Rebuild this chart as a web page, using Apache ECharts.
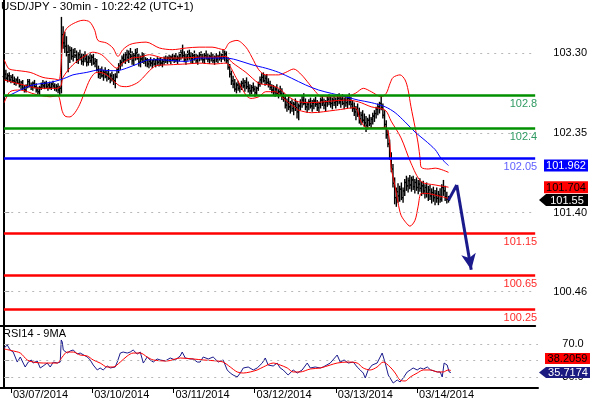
<!DOCTYPE html>
<html><head><meta charset="utf-8">
<script src="https://cdn.jsdelivr.net/npm/echarts@6/dist/echarts.min.js"></script>
<style>html,body{margin:0;padding:0;background:#fff}#c{width:590px;height:400px}</style>
</head><body><div id="c"></div>
<script>
const titleText = 'USD/JPY - 30min - 10:22:42 (UTC+1)';
const rsiTitle = 'RSI14 - 9MA';
const dayTickIndex = [4, 52, 100, 148, 196, 244];
const dayLabels = ['03/07/2014', '03/10/2014', '03/11/2014', '03/12/2014', '03/13/2014', '03/14/2014'];
const priceTicks = [100.46, 101.40, 102.35, 103.30];
const rsiTicks = [30, 50, 70];
const levels = [102.8, 102.4, 102.05, 101.15, 100.65, 100.25];
const levelLabels = ['102.8', '102.4', '102.05', '101.15', '100.65', '100.25'];

// OHLC rows: [open, high, low, close], one per 30-min bar
const ohlc = [
[103.02,103.12,102.98,103.05],[103.05,103.10,102.97,103.00],[103.00,103.06,102.95,103.03],[103.03,103.07,102.96,102.98],
[102.98,103.04,102.94,103.01],[103.01,103.05,102.95,102.97],[102.97,103.02,102.92,102.95],[102.95,103.00,102.91,102.98],
[102.98,103.02,102.93,102.94],[102.94,102.99,102.89,102.92],[102.92,102.97,102.87,102.95],[102.95,102.98,102.86,102.88],
[102.88,102.92,102.83,102.86],[102.86,102.93,102.83,102.91],[102.91,102.99,102.88,102.96],[102.96,102.99,102.89,102.91],
[102.91,102.95,102.86,102.89],[102.89,102.96,102.85,102.94],[102.94,102.98,102.88,102.90],[102.90,102.94,102.83,102.86],
[102.86,102.90,102.81,102.84],[102.84,102.91,102.80,102.89],[102.89,102.95,102.86,102.93],[102.93,102.98,102.88,102.91],
[102.91,102.96,102.87,102.94],[102.94,102.97,102.88,102.90],[102.90,102.94,102.85,102.92],[102.92,102.96,102.87,102.89],
[102.89,102.95,102.86,102.93],[102.93,102.97,102.88,102.91],[102.91,102.94,102.85,102.88],[102.88,102.93,102.84,102.90],
[102.90,102.94,102.82,102.86],[102.86,102.91,102.79,102.88],[102.88,103.73,102.82,103.52],[103.52,103.62,103.35,103.42],
[103.42,103.55,103.30,103.38],[103.38,103.50,103.26,103.31],[103.31,103.40,103.07,103.28],[103.28,103.38,103.18,103.33],
[103.33,103.37,103.22,103.26],[103.26,103.35,103.20,103.30],[103.30,103.36,103.24,103.27],[103.27,103.33,103.18,103.22],
[103.22,103.31,103.17,103.28],[103.28,103.34,103.21,103.25],[103.25,103.30,103.16,103.20],[103.20,103.29,103.15,103.26],
[103.26,103.32,103.19,103.23],[103.23,103.28,103.14,103.19],[103.19,103.27,103.15,103.24],[103.24,103.30,103.18,103.21],
[103.21,103.28,103.15,103.25],[103.25,103.29,103.16,103.18],[103.18,103.24,103.13,103.20],[103.20,103.23,103.08,103.10],
[103.10,103.15,103.00,103.05],[103.05,103.12,102.99,103.08],[103.08,103.14,103.01,103.03],[103.03,103.10,102.97,103.07],
[103.07,103.13,103.00,103.02],[103.02,103.09,102.96,103.05],[103.05,103.11,102.98,103.00],[103.00,103.06,102.94,103.03],
[103.03,103.08,102.96,102.99],[102.99,103.05,102.92,102.97],[102.97,103.06,102.88,103.02],[103.02,103.12,103.00,103.10],
[103.10,103.18,103.06,103.15],[103.15,103.22,103.10,103.19],[103.19,103.27,103.14,103.24],[103.24,103.30,103.18,103.22],
[103.22,103.31,103.17,103.28],[103.28,103.34,103.20,103.25],[103.25,103.33,103.18,103.29],[103.29,103.36,103.22,103.26],
[103.26,103.32,103.16,103.21],[103.21,103.30,103.15,103.27],[103.27,103.35,103.21,103.30],[103.30,103.36,103.22,103.24],
[103.24,103.29,103.14,103.19],[103.19,103.27,103.13,103.23],[103.23,103.31,103.18,103.26],[103.26,103.30,103.17,103.20],
[103.20,103.25,103.14,103.22],[103.22,103.24,103.13,103.17],[103.17,103.23,103.12,103.20],[103.20,103.25,103.14,103.18],
[103.18,103.22,103.12,103.21],[103.21,103.24,103.15,103.17],[103.17,103.23,103.13,103.22],[103.22,103.25,103.16,103.19],
[103.19,103.24,103.14,103.21],[103.21,103.25,103.15,103.18],[103.18,103.23,103.13,103.20],[103.20,103.26,103.16,103.23],
[103.23,103.27,103.18,103.21],[103.21,103.26,103.17,103.24],[103.24,103.28,103.19,103.22],[103.22,103.27,103.17,103.25],
[103.25,103.29,103.20,103.23],[103.23,103.28,103.18,103.26],[103.26,103.30,103.19,103.22],[103.22,103.27,103.17,103.24],
[103.24,103.31,103.20,103.28],[103.28,103.34,103.22,103.30],[103.30,103.40,103.24,103.27],[103.27,103.32,103.19,103.22],
[103.22,103.29,103.16,103.25],[103.25,103.33,103.21,103.29],[103.29,103.34,103.22,103.26],[103.26,103.31,103.18,103.23],
[103.23,103.30,103.17,103.27],[103.27,103.33,103.21,103.24],[103.24,103.29,103.18,103.21],[103.21,103.28,103.16,103.25],
[103.25,103.31,103.20,103.28],[103.28,103.32,103.21,103.24],[103.24,103.29,103.18,103.22],[103.22,103.30,103.17,103.27],
[103.27,103.33,103.22,103.25],[103.25,103.30,103.19,103.23],[103.23,103.28,103.17,103.26],[103.26,103.31,103.20,103.24],
[103.24,103.29,103.18,103.21],[103.21,103.27,103.16,103.25],[103.25,103.30,103.19,103.23],[103.23,103.28,103.18,103.26],
[103.26,103.32,103.21,103.24],[103.24,103.30,103.19,103.28],[103.28,103.34,103.22,103.25],[103.25,103.33,103.20,103.29],
[103.29,103.32,103.18,103.21],[103.21,103.25,103.10,103.13],[103.13,103.17,103.01,103.05],[103.05,103.09,102.92,102.97],
[102.97,103.03,102.88,102.93],[102.93,102.99,102.84,102.87],[102.87,102.95,102.82,102.92],[102.92,102.97,102.85,102.88],
[102.88,102.94,102.83,102.90],[102.90,102.97,102.86,102.94],[102.94,103.00,102.88,102.91],[102.91,102.98,102.84,102.95],
[102.95,103.01,102.87,102.90],[102.90,102.96,102.83,102.88],[102.88,102.93,102.80,102.85],[102.85,102.92,102.81,102.89],
[102.89,102.95,102.84,102.87],[102.87,102.91,102.78,102.83],[102.83,102.90,102.79,102.88],[102.88,102.96,102.85,102.93],
[102.93,103.02,102.90,102.98],[102.98,103.06,102.93,103.01],[103.01,103.07,102.95,102.97],[102.97,103.04,102.91,103.00],
[103.00,103.05,102.92,102.95],[102.95,103.00,102.89,102.93],[102.93,102.97,102.86,102.89],[102.89,102.93,102.82,102.86],
[102.86,102.92,102.80,102.84],[102.84,102.90,102.78,102.87],[102.87,102.93,102.80,102.82],[102.82,102.87,102.76,102.84],
[102.84,102.91,102.79,102.81],[102.81,102.88,102.74,102.78],[102.78,102.83,102.72,102.76],[102.76,102.80,102.64,102.68],
[102.68,102.76,102.60,102.72],[102.72,102.78,102.62,102.66],[102.66,102.73,102.58,102.70],[102.70,102.75,102.60,102.64],
[102.64,102.72,102.56,102.69],[102.69,102.76,102.61,102.65],[102.65,102.73,102.52,102.60],[102.60,102.70,102.50,102.67],
[102.67,102.75,102.62,102.71],[102.71,102.79,102.65,102.74],[102.74,102.82,102.68,102.70],[102.70,102.76,102.62,102.66],
[102.66,102.72,102.59,102.69],[102.69,102.75,102.62,102.72],[102.72,102.77,102.64,102.67],[102.67,102.74,102.60,102.70],
[102.70,102.76,102.63,102.73],[102.73,102.78,102.66,102.69],[102.69,102.74,102.61,102.65],[102.65,102.72,102.59,102.70],
[102.70,102.77,102.64,102.74],[102.74,102.79,102.67,102.71],[102.71,102.76,102.63,102.68],[102.68,102.74,102.61,102.72],
[102.72,102.78,102.66,102.75],[102.75,102.81,102.68,102.72],[102.72,102.78,102.65,102.70],[102.70,102.77,102.63,102.74],
[102.74,102.80,102.67,102.71],[102.71,102.77,102.64,102.73],[102.73,102.81,102.67,102.76],[102.76,102.82,102.69,102.72],
[102.72,102.79,102.65,102.75],[102.75,102.81,102.68,102.70],[102.70,102.77,102.63,102.74],[102.74,102.80,102.66,102.71],
[102.71,102.79,102.64,102.76],[102.76,102.82,102.68,102.72],[102.72,102.78,102.64,102.69],[102.69,102.74,102.60,102.64],
[102.64,102.71,102.55,102.60],[102.60,102.67,102.50,102.63],[102.63,102.70,102.54,102.57],[102.57,102.65,102.46,102.52],
[102.52,102.60,102.44,102.56],[102.56,102.62,102.47,102.50],[102.50,102.58,102.42,102.47],[102.47,102.55,102.36,102.44],
[102.44,102.53,102.39,102.50],[102.50,102.57,102.43,102.46],[102.46,102.54,102.40,102.51],[102.51,102.59,102.45,102.55],
[102.55,102.62,102.48,102.58],[102.58,102.66,102.52,102.63],[102.63,102.70,102.56,102.66],[102.66,102.72,102.58,102.70],
[102.70,102.79,102.62,102.65],[102.65,102.70,102.52,102.56],[102.56,102.62,102.40,102.45],[102.45,102.50,102.28,102.33],
[102.33,102.38,102.18,102.22],[102.22,102.27,102.03,102.08],[102.08,102.12,101.88,101.92],[101.92,101.98,101.70,101.75],
[101.75,101.82,101.50,101.58],[101.58,101.70,101.47,101.65],[101.65,101.75,101.52,101.60],[101.60,101.72,101.53,101.68],
[101.68,101.76,101.55,101.58],[101.58,101.70,101.52,101.66],[101.66,101.80,101.60,101.76],[101.76,101.84,101.66,101.72],
[101.72,101.82,101.64,101.78],[101.78,101.85,101.68,101.73],[101.73,101.83,101.65,101.79],[101.79,101.84,101.67,101.71],
[101.71,101.80,101.63,101.76],[101.76,101.82,101.66,101.70],[101.70,101.79,101.62,101.74],[101.74,101.81,101.65,101.69],
[101.69,101.77,101.60,101.72],[101.72,101.78,101.62,101.66],[101.66,101.74,101.57,101.70],[101.70,101.76,101.58,101.63],
[101.63,101.72,101.54,101.67],[101.67,101.73,101.55,101.60],[101.60,101.69,101.51,101.64],[101.64,101.71,101.53,101.58],
[101.58,101.67,101.49,101.62],[101.62,101.70,101.52,101.57],[101.57,101.66,101.49,101.61],[101.61,101.69,101.52,101.56],
[101.56,101.74,101.53,101.70],[101.70,101.79,101.60,101.66],[101.66,101.72,101.54,101.59],[101.59,101.65,101.51,101.56],
[101.56,101.60,101.52,101.55]
];

// Bollinger bands and moving average: [bar index, price]
const bbUpper = [[0,103.22],[2.4,103.12],[4.7,103.10],[15.4,103.07],[23,103.01],[30.1,102.99],[32.5,102.98],[33.7,103.14],
[35,103.49],[37,103.59],[41,103.65],[46.9,103.69],[50.8,103.67],[53.8,103.57],[55.7,103.45],[60.7,103.42],[64.6,103.36],
[67.6,103.26],[70.5,103.34],[74.5,103.40],[78.4,103.42],[84.3,103.43],[92.2,103.36],[99.9,103.34],[108.2,103.36],
[115.8,103.37],[123.5,103.37],[130.6,103.34],[133.6,103.42],[138.3,103.45],[143.6,103.37],[147.2,103.25],[151.3,103.10],
[155.4,103.04],[163.1,103.04],[167.3,103.07],[172,103.11],[176.7,103.04],[180.9,102.94],[185,102.84],[188.5,102.78],
[202.7,102.78],[208.6,102.82],[213.4,102.88],[218.1,102.84],[224,102.78],[227,102.82],[229.3,102.94],[231.1,103.01],
[235.2,103.04],[238.2,102.98],[240,102.86],[241.7,102.66],[244.1,102.42],[245.9,102.23],[247.2,102.03],[247.8,101.94],
[252,101.92],[256.1,101.93],[264,101.88]];
const bbMiddle = [[0,102.98],[9.5,102.93],[21.3,102.88],[31.3,102.88],[33.7,102.91],[34.9,103.01],[40.8,103.16],[46.7,103.25],
[52.6,103.31],[57.9,103.28],[62.6,103.19],[66.8,103.12],[70.3,103.18],[75.7,103.24],[80.4,103.25],[86.3,103.28],[95.2,103.24],
[104,103.24],[115.8,103.25],[124.7,103.25],[131.8,103.26],[135.3,103.19],[143.6,103.07],[151.3,102.94],[157.2,102.92],
[163.1,102.88],[169,102.78],[174.9,102.72],[182.6,102.71],[202.7,102.74],[210.4,102.72],[218.1,102.66],[226.4,102.62],
[229.9,102.49],[235.8,102.29],[241.7,101.99],[247.8,101.77],[256.1,101.73],[264,101.704]];
const bbLower = [[0,102.71],[3.5,102.84],[9.5,102.86],[18.3,102.81],[27.2,102.78],[31.9,102.79],[33.1,102.74],[34.3,102.62],
[36.1,102.55],[39,102.54],[42,102.59],[44.9,102.69],[47.9,102.84],[50.8,102.98],[53.8,103.06],[56.7,103.07],[60.9,103.04],
[64.4,102.98],[68.6,102.91],[72.7,102.90],[78.6,102.94],[82.2,103.00],[86.3,103.09],[90.4,103.15],[98.1,103.16],
[108.2,103.17],[115.8,103.18],[124.7,103.17],[131.8,103.18],[137.7,103.01],[143.6,102.80],[146.6,102.76],[151.3,102.78],
[155.4,102.84],[161.3,102.84],[164.9,102.78],[169,102.71],[173.2,102.65],[174.9,102.62],[182.6,102.59],[196.8,102.62],
[208.6,102.65],[211.6,102.50],[214.5,102.42],[218.1,102.41],[224,102.41],[226.4,102.42],[228.1,102.36],[229.3,102.18],
[229.9,101.94],[232.3,101.71],[234,101.52],[235.8,101.37],[238.8,101.28],[241.1,101.24],[244.1,101.31],[245.9,101.47],
[247.8,101.63],[250.7,101.63],[256.1,101.61],[264,101.57]];
const movingAvg = [[0,102.78],[3.5,102.80],[9.5,102.86],[17.1,102.92],[27.2,102.95],[33.1,102.98],[37.2,103.01],[40.8,103.04],
[49.1,103.07],[56.7,103.10],[62.6,103.09],[66.8,103.09],[72.7,103.12],[80.4,103.18],[86.3,103.22],[92.2,103.22],
[108.2,103.20],[115.8,103.24],[131.8,103.24],[137.7,103.22],[147.2,103.16],[155.4,103.12],[163.1,103.07],[170.8,103.00],
[179.1,102.92],[186.8,102.86],[194.4,102.82],[202.7,102.78],[210.4,102.74],[218.1,102.71],[226.4,102.66],[232.3,102.59],
[238.2,102.48],[244.1,102.36],[250.1,102.26],[256.1,102.15],[259.5,102.05],[264,101.962]];

// RSI(14) and its 9-period MA: [bar index, value]
const rsi = [[0,65.4],[1.8,69.0],[3.5,63.0],[5.3,60.5],[6.5,54.5],[7.7,48.4],[9.5,54.5],[11.2,47.2],[12.4,42.4],[14.2,48.4],
[16,50.9],[17.1,47.2],[19.5,49.7],[21.3,41.2],[23,43.6],[25.4,47.2],[27.2,42.4],[29,48.4],[31.3,47.2],[33.1,48.4],[33.7,75.1],
[34.3,72.6],[34.9,63.0],[37.2,59.3],[39,61.8],[40.8,63.0],[43.1,58.1],[44.9,59.3],[49.1,54.5],[50.8,50.9],[52.6,44.8],[55,38.8],
[56.7,41.2],[58.5,38.8],[60.9,43.6],[62.6,41.2],[65.6,42.4],[66.8,48.4],[68.6,59.3],[70.3,60.5],[72.7,59.3],[74.5,60.5],
[76.2,63.0],[78.6,58.1],[80.4,60.5],[82.2,47.2],[84.5,54.5],[86.3,50.9],[88.1,48.4],[90.4,52.1],[92.2,50.9],[95.2,49.7],
[98.1,53.3],[101.1,50.9],[104,55.7],[105.2,60.5],[107,53.3],[109.9,52.1],[111.7,52.1],[114.1,48.4],[115.8,48.4],[117.6,54.5],
[120.6,52.1],[123.5,54.5],[126.5,48.4],[129.4,50.9],[130.6,44.8],[131.8,38.8],[133.6,35.1],[135.3,32.7],[137.7,30.3],
[139.5,35.1],[141.3,41.2],[144.2,42.4],[147.2,38.8],[149.5,41.2],[152.5,47.2],[154.3,53.3],[156,44.8],[159,43.6],[161.3,47.2],
[163.1,41.2],[164.9,38.8],[167.8,32.7],[170.8,38.8],[173.2,35.1],[176.1,38.8],[179.1,47.2],[180.9,41.2],[183.8,42.4],
[186.8,41.2],[188.5,42.4],[192.7,47.2],[196.8,56.9],[198.6,48.4],[200.9,50.9],[203.3,47.2],[206.3,48.4],[208.6,42.4],
[210.4,38.8],[212.2,35.1],[213.4,29.1],[215.1,38.8],[217.5,44.8],[220.4,47.2],[223.4,59.3],[225.2,47.2],[227,32.7],
[228.1,30.3],[229.9,23.0],[232.3,26.7],[234,24.3],[235.8,29.1],[238.2,36.4],[240,38.8],[241.7,41.2],[244.1,38.8],[245.9,41.2],
[247.8,40.0],[250.1,42.4],[252,38.8],[254.1,37.6],[256.1,36.4],[257.7,36.4],[258.9,30.3],[260,47.2],[261.8,44.8],[263,36.4],
[264,35.7174]];
const rsiMa = [[0,64.2],[5.3,61.8],[9.5,59.3],[13.6,50.9],[17.1,48.4],[23,47.2],[31.3,47.2],[34.3,54.5],[37.2,60.5],[40.8,60.5],
[44.9,56.9],[49.1,55.7],[52.6,50.9],[56.7,47.2],[60.9,42.4],[64.4,42.4],[68.6,48.4],[72.7,55.7],[76.2,59.3],[80.4,59.3],
[84.5,54.5],[88.1,50.9],[96.3,49.7],[104,53.3],[111.7,52.1],[117.6,50.9],[125.9,49.7],[129.4,48.4],[133.6,42.4],[137.7,36.4],
[141.3,35.1],[145.4,36.4],[149.5,38.8],[153.1,42.4],[159,47.2],[163.1,44.8],[167.3,41.2],[170.8,36.4],[174.9,36.4],[180.9,40.0],
[186.8,41.2],[192.7,44.8],[196.8,47.2],[202.7,48.4],[208.6,47.2],[212.2,41.2],[216.3,38.8],[220.4,42.4],[224,48.4],[228.1,42.4],
[231.1,35.1],[234,26.5],[237,25.5],[240,30.3],[244.1,35.1],[247.8,38.8],[252,38.8],[256.1,36.4],[259.5,36.4],[262.4,38.8],
[264,38.2059]];

// projected move drawn as an arrow
const forecast = [[264,101.55],[268.9,101.73],[277.5,100.72]];

const levelLineColors = ['#009000','#009000','#0000ff','#ff0000','#ff0000','#ff0000'];
const levelTextColors = ['#2f9a62','#2f9a62','#6060ff','#ff2a2a','#ff2a2a','#ff2a2a'];
const FONT = 'Liberation Sans, Arial, sans-serif';
const X_MIN = -2.5, X_MAX = 315.5;

const chart = echarts.init(document.getElementById('c'), null, {renderer: 'canvas'});

const barData = ohlc.map((r, i) => [i, r[0], r[1], r[2], r[3]]);

function renderBar(params, api) {
  const x = api.value(0);
  const pO = api.coord([x, api.value(1)]);
  const pH = api.coord([x, api.value(2)]);
  const pL = api.coord([x, api.value(3)]);
  const pC = api.coord([x, api.value(4)]);
  const cx = pH[0];
  const st = {stroke: '#000', lineWidth: 1.4};
  const st2 = {stroke: '#000', lineWidth: 1.2};
  return {type: 'group', children: [
    {type: 'line', shape: {x1: cx, y1: pH[1], x2: cx, y2: pL[1]}, style: st},
    {type: 'line', shape: {x1: cx - 1.6, y1: pO[1], x2: cx, y2: pO[1]}, style: st2},
    {type: 'line', shape: {x1: cx, y1: pC[1], x2: cx + 1.6, y2: pC[1]}, style: st2}
  ]};
}

const dotted = {type: [2, 5], color: '#b8b8b8', width: 1};

const option = {
  animation: false,
  backgroundColor: '#fff',
  textStyle: {fontFamily: FONT},
  title: [
    {text: titleText, left: 1, top: 1, padding: 0, textStyle: {fontSize: 11.5, fontWeight: 'normal', color: '#000', fontFamily: FONT}},
    {text: rsiTitle, left: 3, top: 328, padding: 0, textStyle: {fontSize: 11, fontWeight: 'normal', color: '#000', fontFamily: FONT}}
  ],
  grid: [
    {left: 0, right: 52, top: 0, height: 326},
    {left: 0, right: 52, top: 326, height: 62}
  ],
  xAxis: [
    {gridIndex: 0, type: 'value', min: X_MIN, max: X_MAX, position: 'bottom',
     axisLine: {show: true, onZero: false, lineStyle: {color: '#000', width: 2}},
     axisTick: {show: false}, axisLabel: {show: false}, splitLine: {show: false}},
    {gridIndex: 1, type: 'value', min: X_MIN, max: X_MAX, position: 'bottom',
     axisLine: {show: true, onZero: false, lineStyle: {color: '#000', width: 2}},
     axisTick: {show: true, customValues: dayTickIndex, length: 5, lineStyle: {color: '#000', width: 1}},
     axisLabel: {show: true, customValues: dayTickIndex, align: 'left', margin: 1, padding: [0, 0, 0, 2],
       fontSize: 11, color: '#000', fontFamily: FONT,
       formatter: v => dayLabels[dayTickIndex.indexOf(Math.round(v))] || ''},
     splitLine: {show: false}}
  ],
  yAxis: [
    {gridIndex: 0, type: 'value', min: 100.052, max: 103.931, position: 'right',
     axisLine: {show: true, lineStyle: {color: '#000', width: 2}},
     axisTick: {show: true, customValues: priceTicks, length: 5, lineStyle: {color: '#999'}},
     axisLabel: {show: true, customValues: priceTicks, formatter: v => v.toFixed(2), align: 'center', margin: 35,
       fontSize: 11, color: '#000', fontFamily: FONT},
     splitLine: {show: false}},
    {gridIndex: 1, type: 'value', min: 17, max: 92, position: 'right',
     axisLine: {show: true, lineStyle: {color: '#000', width: 2}},
     axisTick: {show: true, customValues: rsiTicks, length: 5, lineStyle: {color: '#999'}},
     axisLabel: {show: true, customValues: rsiTicks, formatter: v => v.toFixed(1), align: 'center', margin: 35,
       fontSize: 11, color: '#000', fontFamily: FONT},
     splitLine: {show: false}}
  ],
  series: [
    {type: 'line', xAxisIndex: 0, yAxisIndex: 0, data: [], silent: true, z: 1,
     markLine: {silent: true, symbol: ['none', 'none'], label: {show: false}, lineStyle: dotted,
       data: priceTicks.map(v => [{coord: [0, v]}, {coord: [X_MAX, v]}])}},
    {type: 'line', xAxisIndex: 1, yAxisIndex: 1, data: [], silent: true, z: 1,
     markLine: {silent: true, symbol: ['none', 'none'], label: {show: false}, lineStyle: dotted,
       data: rsiTicks.map(v => [{coord: [0, v]}, {coord: [X_MAX, v]}])}},
    {type: 'custom', name: 'bars', xAxisIndex: 0, yAxisIndex: 0, data: barData, renderItem: renderBar,
     encode: {x: 0, y: [1, 2, 3, 4]}, clip: true, z: 2},
    {type: 'line', name: 'upper', xAxisIndex: 0, yAxisIndex: 0, data: bbUpper, showSymbol: false, smooth: 0.3,
     lineStyle: {color: '#ff0000', width: 1}, z: 3},
    {type: 'line', name: 'middle', xAxisIndex: 0, yAxisIndex: 0, data: bbMiddle, showSymbol: false, smooth: 0.3,
     lineStyle: {color: '#ff0000', width: 1}, z: 3},
    {type: 'line', name: 'lower', xAxisIndex: 0, yAxisIndex: 0, data: bbLower, showSymbol: false, smooth: 0.3,
     lineStyle: {color: '#ff0000', width: 1}, z: 3},
    {type: 'line', name: 'ma', xAxisIndex: 0, yAxisIndex: 0, data: movingAvg, showSymbol: false, smooth: 0.3,
     lineStyle: {color: '#0000ff', width: 1}, z: 3},
    {type: 'line', xAxisIndex: 0, yAxisIndex: 0, data: [], silent: true, z: 5,
     markLine: {silent: true, symbol: ['none', 'none'],
       data: levels.map((v, i) => [
         {coord: [-0.2, v], lineStyle: {color: levelLineColors[i], width: 2.5, type: 'solid'},
          label: {show: true, position: 'insideEndBottom', formatter: levelLabels[i], color: levelTextColors[i],
            fontSize: 11, fontFamily: FONT, distance: [-2, 3]}},
         {coord: [X_MAX, v]}])}},
    {type: 'line', name: 'forecast', xAxisIndex: 0, yAxisIndex: 0, data: forecast.slice(0, 2), showSymbol: false,
     lineStyle: {color: '#1a1a8c', width: 3}, z: 6,
     markLine: {silent: true, symbol: ['none', 'arrow'], symbolSize: [11, 16], label: {show: false},
       lineStyle: {color: '#1a1a8c', width: 3, type: 'solid'},
       data: [[{coord: forecast[1]}, {coord: forecast[2]}]]}},
    {type: 'line', name: 'rsi', xAxisIndex: 1, yAxisIndex: 1, data: rsi, showSymbol: false,
     lineStyle: {color: '#1a1a8c', width: 1}, z: 3},
    {type: 'line', name: 'rsiMa', xAxisIndex: 1, yAxisIndex: 1, data: rsiMa, showSymbol: false, smooth: 0.3,
     lineStyle: {color: '#ff0000', width: 1}, z: 4}
  ]
};
chart.setOption(option);

// value tags on the right, placed through the axes' scales
const yP = v => chart.convertToPixel({yAxisIndex: 0}, v);
const yR = v => chart.convertToPixel({yAxisIndex: 1}, v);
const maLast = movingAvg[movingAvg.length - 1][1];
const midLast = bbMiddle[bbMiddle.length - 1][1];
const closeLast = ohlc[ohlc.length - 1][3];
const rsiLast = rsi[rsi.length - 1][1];
const rsiMaLast = rsiMa[rsiMa.length - 1][1];

function box(y, text, fill, color, arrow, x0, x1, h) {
  const els = [];
  if (arrow) {
    els.push({type: 'polygon', shape: {points: [[539, y], [x0, y - h / 2], [x1, y - h / 2], [x1, y + h / 2], [x0, y + h / 2]]},
      style: {fill: fill}, z: 100});
  } else {
    els.push({type: 'rect', shape: {x: x0, y: y - h / 2, width: x1 - x0, height: h}, style: {fill: fill}, z: 100});
  }
  els.push({type: 'text', x: (x0 + x1) / 2, y: y + 0.5, style: {text: text, fill: color, font: '11px ' + FONT,
    textAlign: 'center', textVerticalAlign: 'middle'}, z: 101});
  return els;
}
const tags = [].concat(
  box(yP(maLast), maLast.toFixed(3), '#0000ff', '#fff', false, 544, 588, 12),
  box(yP(midLast), midLast.toFixed(3), '#ff0000', '#000', false, 544, 588, 12),
  box(yP(closeLast), closeLast.toFixed(2), '#000', '#fff', true, 546, 588, 12),
  box(yR(rsiMaLast) - 12, rsiMaLast.toFixed(4), '#ff0000', '#000', false, 545, 590, 11),
  box(yR(rsiLast), rsiLast.toFixed(4), '#1a1a80', '#fff', true, 546, 590, 11)
);
chart.setOption({graphic: tags});
</script>
</body></html>
